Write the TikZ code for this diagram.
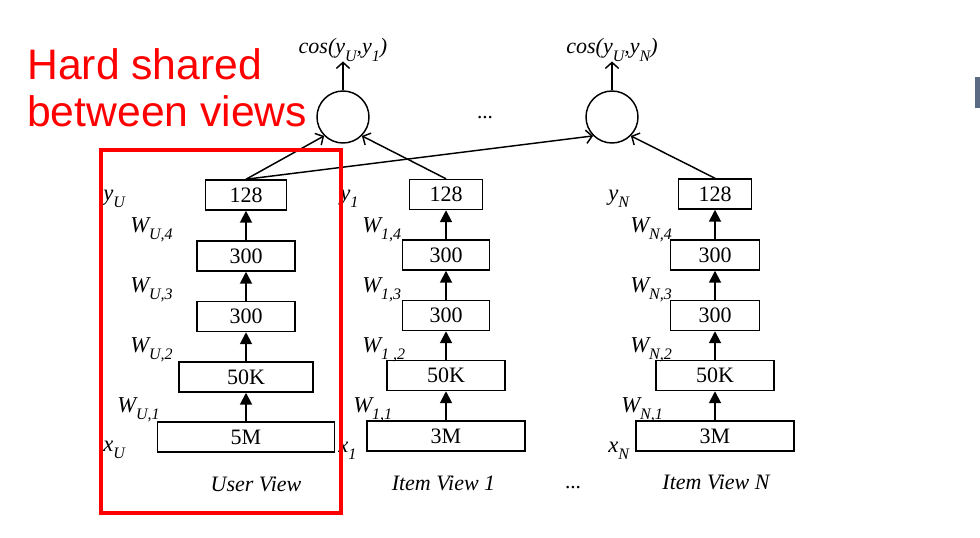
\documentclass[tikz,border=0pt]{standalone}
\usepackage{fontspec}
\setmainfont{Liberation Serif}
\newfontfamily\redfont{Liberation Sans}
\usetikzlibrary{arrows.meta}
\newcommand{\wl}[2]{\itshape #1\raisebox{-0.32em}{\fontsize{12}{12}\selectfont\itshape #2}}
\definecolor{barblue}{HTML}{5B6B84}
\begin{document}
\begin{tikzpicture}[x=0.75pt,y=-0.75pt,
  box/.style={draw, line width=1.1pt, minimum height=22.5pt, inner sep=0pt, font=\fontsize{16.5}{16.5}\selectfont},
  lab/.style={anchor=base west, inner sep=0pt, font=\fontsize{17}{17}\selectfont\itshape},
  viewlab/.style={anchor=base, inner sep=0pt, font=\fontsize{16.5}{16.5}\selectfont\itshape},
  uparr/.style={line width=1.4pt, -{Triangle[length=9pt,width=9pt]}},
  openarr/.style={line width=1.1pt, -{Straight Barb[length=4.5pt,width=10pt]}},
  neuron/.style={draw, circle, line width=1.1pt, minimum size=39pt, inner sep=0pt},
  redtext/.style={anchor=base west, inner sep=0pt, text=red, font=\redfont\fontsize{32}{32}\selectfont},
]
\useasboundingbox (0,0) rectangle (980,538);
\fill[white] (0,0) rectangle (980,538);

% User view column
\node[box, minimum width=60.75pt] (u4) at (246,195) {128};
\node[box, minimum width=73.5pt] (u3) at (246,256) {300};
\node[box, minimum width=73.5pt] (u2) at (246,316.5) {300};
\node[box, minimum width=100.5pt] (u1) at (246,377) {50K};
\node[box, minimum width=132.75pt] (u0) at (246,437) {5M};
\draw[uparr] (u0) -- (u1);
\draw[uparr] (u1) -- (u2);
\draw[uparr] (u2) -- (u3);
\draw[uparr] (u3) -- (u4);

% Item view 1 column
\node[box, minimum width=54.75pt] (i4) at (446,194.5) {128};
\node[box, minimum width=65.25pt] (i3) at (446,255) {300};
\node[box, minimum width=65.25pt] (i2) at (446,315.5) {300};
\node[box, minimum width=88.5pt] (i1) at (446,375.5) {50K};
\node[box, minimum width=118.5pt] (i0) at (446,436) {3M};
\draw[uparr] (i0) -- (i1);
\draw[uparr] (i1) -- (i2);
\draw[uparr] (i2) -- (i3);
\draw[uparr] (i3) -- (i4);

% Item view N column
\node[box, minimum width=54.75pt] (n4) at (715,194) {128};
\node[box, minimum width=66.75pt] (n3) at (715,255) {300};
\node[box, minimum width=66.75pt] (n2) at (715,315.5) {300};
\node[box, minimum width=88.5pt] (n1) at (715,375.5) {50K};
\node[box, minimum width=118.5pt] (n0) at (715,436) {3M};
\draw[uparr] (n0) -- (n1);
\draw[uparr] (n1) -- (n2);
\draw[uparr] (n2) -- (n3);
\draw[uparr] (n3) -- (n4);

% cosine nodes
\node[neuron] (c1) at (343,117) {};
\node[neuron] (c2) at (612,117) {};
\node[anchor=base, inner sep=0pt, font=\fontsize{16.5}{16.5}\selectfont] (cos1) at (343,54) {\wl{cos(y}{U},\wl{y}{1})};
\node[anchor=base, inner sep=0pt, font=\fontsize{16.5}{16.5}\selectfont] (cos2) at (612,54) {\wl{cos(y}{U},\wl{y}{N})};
\draw[openarr] (c1) -- (cos1.south);
\draw[openarr] (c2) -- (cos2.south);
\draw[openarr] (u4.north) -- (c1.south west);
\draw[openarr] (i4.north) -- (c1.south east);
\draw[openarr] (u4.north) -- (c2.south west);
\draw[openarr] (n4.north) -- (c2.south east);

\node[anchor=base, inner sep=0pt, font=\fontsize{16}{16}\selectfont] (dotsA) at (485,119) {...};
\node[anchor=base, inner sep=0pt, font=\fontsize{16}{16}\selectfont] (dotsB) at (573,488) {...};

% labels user
\node[lab] (lyu) at (103,200) {\wl{y}{U}};
\node[lab] (lwu4) at (130,232) {\wl{W}{U,4}};
\node[lab] (lwu3) at (130,292) {\wl{W}{U,3}};
\node[lab] (lwu2) at (130,352) {\wl{W}{U,2}};
\node[lab] (lwu1) at (117,412) {\wl{W}{U,1}};
\node[lab] (lxu) at (103,451) {\wl{x}{U}};
\node[viewlab] (vu) at (256,491) {User View};

% labels item 1
\node[lab] (ly1) at (340,200) {\wl{y}{1}};
\node[lab] (lw14) at (362,232) {\wl{W}{1,4}};
\node[lab] (lw13) at (362,292) {\wl{W}{1,3}};
\node[lab] (lw12) at (362,352) {\wl{W}{1 ,2}};
\node[lab] (lw11) at (353,412) {\wl{W}{1,1}};
\node[lab] (lx1) at (338,452) {\wl{x}{1}};
\node[viewlab] (v1) at (443.5,490) {Item View 1};

% labels item N
\node[lab] (lyn) at (608,200) {\wl{y}{N}};
\node[lab] (lwn4) at (630,232) {\wl{W}{N,4}};
\node[lab] (lwn3) at (630,292) {\wl{W}{N,3}};
\node[lab] (lwn2) at (630,352) {\wl{W}{N,2}};
\node[lab] (lwn1) at (621,412) {\wl{W}{N,1}};
\node[lab] (lxn) at (608,452) {\wl{x}{N}};
\node[viewlab] (vn) at (716,489) {Item View N};

% red annotation
\draw[red, line width=3pt] (101,150) rectangle (341,513);
\node[redtext] (r1) at (27,80) {Hard shared};
\node[redtext] (r2) at (27,127) {between views};

% cropped bar at right edge
\fill[barblue] (975,77) rectangle (980,108);
\end{tikzpicture}
\end{document}
